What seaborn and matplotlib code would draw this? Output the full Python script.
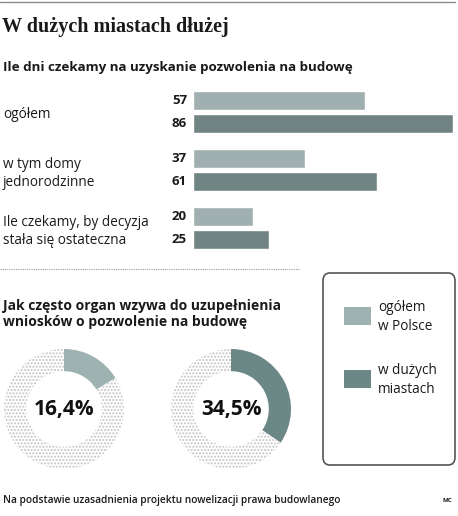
import matplotlib
matplotlib.use('Agg')
import matplotlib.pyplot as plt
from matplotlib.lines import Line2D
from matplotlib.patches import FancyBboxPatch, Rectangle
import pandas as pd
import seaborn as sns

# data
categories = ['ogółem', 'w tym domy\njednorodzinne', 'Ile czekamy, by decyzja\nstała się ostateczna']
days_poland = [57, 37, 20]
days_cities = [86, 61, 25]
groups = ['ogółem\nw Polsce', 'w dużych\nmiastach']
share_labels = ['16,4%', '34,5%']
share_values = [16.4, 34.5]

light = '#9db2b1'
dark = '#6b8786'
W, H = 458, 516

sns.set_theme(style='white')
plt.rcParams['font.family'] = ['Open Sans', 'DejaVu Sans']


def box(x0, y0, x1, y1):
    return [x0 / W, 1 - y1 / H, (x1 - x0) / W, (y1 - y0) / H]


fig = plt.figure(figsize=(W / 100, H / 100), dpi=100)

fig.add_artist(Line2D([0, 455 / W], [1 - 2 / H] * 2, color='#8a8a8a', lw=1))
fig.text(2 / W, 1 - 27 / H, 'W dużych miastach dłużej', family='Liberation Serif',
         fontweight='bold', fontsize=14.5, va='center', ha='left', color='#1a1a1a')
fig.text(3 / W, 1 - 67 / H, 'Ile dni czekamy na uzyskanie pozwolenia na budowę',
         fontweight='bold', fontsize=9.6, va='center', ha='left', color='#1a1a1a')

# bars
df = pd.DataFrame({
    'cat': categories * 2,
    'group': [groups[0]] * 3 + [groups[1]] * 3,
    'days': days_poland + days_cities,
})
ax = fig.add_axes(box(193, 83, 453, 257))
sns.barplot(data=df, x='days', y='cat', hue='group', palette=[light, dark],
            orient='h', width=0.78, gap=0.15, legend=False, ax=ax)
ax.set_xlim(0, 86)
ax.set_ylim(2.5, -0.5)
ax.set_xlabel('')
ax.set_ylabel('')
ax.set_xticks([])
for s in ax.spines.values():
    s.set_visible(False)
ax.tick_params(axis='y', length=0, pad=136.8, labelsize=9.8, labelcolor='#1a1a1a')
for lab in ax.get_yticklabels():
    lab.set_ha('left')
    lab.set_linespacing(1.3)
for cont in ax.containers:
    for bar in cont:
        ax.annotate(f'{bar.get_width():.0f}', xy=(0, bar.get_y() + bar.get_height() / 2),
                    xytext=(-6, 0), textcoords='offset pixels', ha='right', va='center',
                    fontweight='bold', fontsize=9.5, color='#1a1a1a')

# separator
fig.add_artist(Line2D([0, 300 / W], [1 - 269 / H] * 2, color='#9a9a9a', lw=0.8, ls=(0, (1, 1))))

fig.text(3 / W, 1 - 314 / H, 'Jak często organ wzywa do uzupełnienia\nwniosków o pozwolenie na budowę',
         fontweight='bold', fontsize=10, va='center', ha='left', color='#1a1a1a', linespacing=1.15)

# donuts
centers = [64, 231]
for cx, val, lab, col in zip(centers, share_values, share_labels, [light, dark]):
    dax = fig.add_axes(box(cx - 60, 349, cx + 60, 469))
    wedges, _ = dax.pie([val, 100 - val], startangle=90, counterclock=False,
                        colors=[col, 'white'], radius=1,
                        wedgeprops=dict(width=0.37, linewidth=0))
    wedges[1].set_hatch('.....')
    wedges[1].set_edgecolor('#c4c4c4')
    wedges[1].set_linewidth(0)
    dax.set_xlim(-1, 1)
    dax.set_ylim(-1, 1)
    dax.set_aspect('equal')
    dax.axis('off')
    dax.text(0, 0, lab, ha='center', va='center', fontweight='bold', fontsize=15, color='#111111')

# legend box
fig.add_artist(FancyBboxPatch((323 / W, 1 - 465 / H), 132 / W, 192 / H,
                              boxstyle='round,pad=0,rounding_size=0.015',
                              transform=fig.transFigure, facecolor='white',
                              edgecolor='#555555', lw=1.2))
for y0, col, lab in zip([307, 370], [light, dark], groups):
    fig.add_artist(Rectangle((344 / W, 1 - (y0 + 18) / H), 27 / W, 18 / H,
                             transform=fig.transFigure, facecolor=col, edgecolor='none'))
    fig.text(378 / W, 1 - (y0 + 10) / H, lab, fontsize=9.8, va='center', ha='left',
             color='#1a1a1a', linespacing=1.3)

fig.text(3 / W, 1 - 500 / H, 'Na podstawie uzasadnienia projektu nowelizacji prawa budowlanego',
         fontsize=7.3, fontweight='semibold', va='center', ha='left', color='#1a1a1a')
fig.text(452 / W, 1 - 500 / H, 'MC', fontsize=4.5, fontweight='bold', va='center', ha='right',
         color='#1a1a1a')

fig.savefig('out.png', dpi=100)
